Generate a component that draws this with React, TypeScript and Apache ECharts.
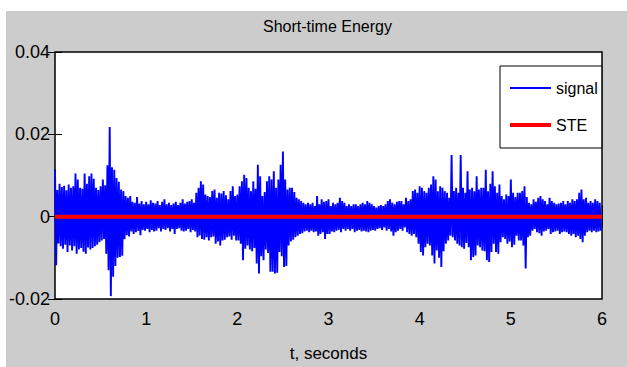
import React, { useEffect, useRef } from "react";
import * as echarts from "echarts";

// Signal envelope, per 0.025 s bin, in units of 0.001
const BIN_SECONDS = 0.025;
const UNIT = 0.001;

const signalUpper = [
  11.5, 6.5, 8.0, 7.2, 7.5, 6.4, 7.8, 7.0, 7.4, 10.5, 9.0, 7.0,
  6.8, 10.5, 8.0, 9.8, 10.5, 9.2, 7.0, 6.5, 7.4, 9.0, 7.6, 12.5,
  21.8, 12.0, 11.4, 9.4, 8.5, 6.6, 6.2, 5.0, 4.6, 5.0, 3.6, 3.4,
  4.8, 3.2, 3.8, 3.0, 3.6, 3.0, 4.0, 3.4, 3.2, 3.8, 2.8, 3.6,
  4.2, 3.0, 3.4, 2.8, 3.2, 3.6, 2.8, 3.4, 4.2, 3.2, 3.6, 3.8,
  4.2, 3.4, 5.8, 7.0, 8.6, 7.8, 5.4, 5.0, 4.8, 6.2, 6.6, 4.6,
  5.8, 5.6, 6.2, 5.2, 4.2, 6.2, 7.4, 5.0, 5.4, 7.4, 8.6, 10.2,
  9.4, 7.0, 6.2, 8.6, 6.8, 12.6, 9.8, 5.0, 6.0, 8.6, 9.8, 9.0,
  11.0, 7.0, 9.0, 12.6, 15.8, 9.0, 6.6, 7.0, 7.0, 6.0, 4.6, 4.2,
  3.8, 3.4, 3.0, 3.4, 3.0, 3.4, 2.6, 5.0, 3.0, 4.2, 3.6, 3.8,
  4.2, 2.6, 3.4, 3.0, 3.4, 4.6, 3.8, 3.4, 2.6, 3.0, 2.6, 3.0,
  3.0, 2.6, 3.0, 3.4, 3.0, 3.8, 3.4, 3.0, 2.6, 2.2, 2.6, 2.8,
  2.6, 3.0, 3.8, 4.2, 3.4, 3.0, 3.6, 3.8, 3.8, 3.0, 4.6, 3.8,
  4.2, 6.2, 6.6, 5.8, 7.4, 7.0, 6.2, 5.8, 7.0, 7.8, 9.8, 9.0,
  6.2, 7.4, 7.0, 6.2, 5.8, 4.6, 15.0, 6.2, 7.0, 5.8, 15.0, 7.0,
  5.8, 11.0, 6.6, 7.0, 6.2, 9.8, 6.6, 7.0, 7.0, 11.4, 6.2, 8.0,
  11.0, 7.4, 5.8, 7.8, 5.0, 4.2, 5.4, 5.0, 9.0, 5.8, 4.8, 5.8,
  5.8, 6.2, 7.4, 4.8, 3.4, 3.0, 4.2, 3.6, 4.6, 5.0, 4.2, 3.8,
  3.0, 4.6, 3.8, 3.4, 3.0, 3.2, 3.4, 3.8, 3.0, 3.8, 3.4, 4.2,
  3.8, 4.2, 5.8, 6.6, 4.2, 4.6, 3.4, 3.8, 3.4, 4.2, 3.8, 3.4,
];

const signalLower = [
  -11.8, -6.5, -7.2, -7.8, -6.8, -8.6, -7.0, -8.2, -7.2, -9.0, -8.0, -7.6,
  -8.5, -9.0, -7.5, -8.0, -7.6, -7.2, -6.8, -6.2, -5.8, -5.4, -9.0, -13.0,
  -19.3, -14.6, -12.0, -10.0, -9.8, -9.5, -5.5, -4.5, -4.8, -3.6, -4.2, -3.8,
  -3.5, -4.5, -3.2, -3.4, -3.0, -3.8, -3.2, -3.6, -3.4, -2.8, -3.6, -3.0,
  -3.2, -2.8, -3.6, -3.0, -4.2, -3.0, -2.8, -3.4, -3.6, -3.4, -3.0, -3.8,
  -3.2, -3.6, -5.0, -4.6, -5.4, -5.6, -5.0, -5.8, -5.0, -4.8, -6.6, -6.0,
  -7.0, -5.8, -5.6, -5.0, -4.8, -5.6, -4.6, -5.8, -5.8, -6.6, -10.6, -7.8,
  -7.0, -8.0, -8.4, -7.6, -11.4, -13.8, -9.6, -10.6, -8.0, -8.8, -13.4, -13.4,
  -13.8, -13.6, -8.6, -9.6, -12.2, -12.0, -7.0, -6.0, -5.6, -5.0, -4.6, -4.2,
  -4.0, -3.6, -3.4, -3.8, -3.4, -3.8, -3.6, -4.6, -4.2, -3.8, -5.4, -4.2,
  -4.2, -3.6, -3.8, -3.4, -3.2, -3.8, -3.0, -3.4, -3.0, -3.4, -3.0, -3.8,
  -3.4, -3.2, -3.6, -3.4, -3.6, -3.8, -3.4, -3.2, -3.4, -3.0, -2.8, -3.2,
  -2.6, -3.4, -3.0, -3.6, -4.6, -3.8, -3.4, -3.0, -3.4, -2.6, -3.8, -4.2,
  -4.6, -4.2, -5.0, -6.6, -8.6, -9.4, -7.4, -6.6, -7.0, -9.4, -11.4, -8.2,
  -10.0, -12.2, -8.4, -6.6, -5.8, -4.6, -5.0, -5.8, -6.6, -7.0, -7.4, -7.8,
  -6.4, -7.4, -10.6, -9.8, -9.4, -7.0, -7.4, -8.2, -8.4, -10.6, -11.0, -8.6,
  -6.6, -8.6, -9.0, -6.2, -5.0, -5.4, -6.6, -6.0, -7.4, -6.8, -4.6, -5.8,
  -5.8, -7.0, -12.6, -5.0, -4.6, -3.4, -3.0, -3.8, -4.0, -4.6, -3.6, -3.4,
  -3.0, -4.2, -3.8, -3.6, -3.4, -4.2, -3.8, -3.6, -3.8, -4.2, -4.6, -4.2,
  -5.0, -4.6, -5.4, -6.2, -4.6, -3.8, -3.4, -3.8, -3.4, -3.8, -3.6, -3.4,
];

// Short-time energy (flat at zero at this scale)
const steTimes = [0, 0.5, 1, 1.5, 2, 2.5, 3, 3.5, 4, 4.5, 5, 5.5, 6];
const steValues = [0, 0, 0, 0, 0, 0, 0, 0, 0, 0, 0, 0, 0];

const FONT = "'Liberation Sans', Arial, sans-serif";

export default function App() {
  const ref = useRef<HTMLDivElement>(null);

  useEffect(() => {
    if (!ref.current) return;
    const chart = echarts.init(ref.current, undefined, { renderer: "svg" });

    const signalData: [number, number][] = [];
    for (let i = 0; i < signalUpper.length; i++) {
      const t = i * BIN_SECONDS;
      signalData.push([t, signalUpper[i] * UNIT]);
      signalData.push([t + BIN_SECONDS / 2, signalLower[i] * UNIT]);
    }
    const steData = steTimes.map((t, i) => [t, steValues[i]]);

    const tickLine = { color: "#000", width: 1 };

    chart.setOption({
      animation: false,
      backgroundColor: "#ffffff",
      graphic: [
        {
          type: "rect",
          shape: { x: 6, y: 11, width: 621, height: 356 },
          style: { fill: "#cccccc" },
          z: -100,
          silent: true,
        },
      ],
      title: {
        text: "Short-time Energy",
        left: 263,
        top: 18,
        padding: 0,
        textStyle: { fontFamily: FONT, fontSize: 16, fontWeight: "normal", color: "#000" },
      },
      grid: {
        left: 55,
        right: 25,
        top: 52,
        bottom: 64,
        show: true,
        backgroundColor: "#ffffff",
        borderColor: "#000",
        borderWidth: 1.5,
      },
      legend: {
        orient: "vertical",
        left: 500,
        top: 66,
        padding: [14, 4, 15, 8],
        itemGap: 21,
        itemWidth: 41,
        itemHeight: 14,
        backgroundColor: "#ffffff",
        borderColor: "#000",
        borderWidth: 1,
        itemStyle: { opacity: 0 },
        textStyle: { fontFamily: FONT, fontSize: 16, color: "#000" },
        data: [
          { name: "signal", lineStyle: { width: 2 } },
          { name: "STE", lineStyle: { width: 4 } },
        ],
      },
      xAxis: [
        {
          type: "value",
          min: 0,
          max: 6,
          interval: 1,
          position: "bottom",
          axisLine: { show: false },
          axisTick: { inside: true, length: 11, lineStyle: tickLine },
          axisLabel: { color: "#000", fontFamily: FONT, fontSize: 18, margin: 11 },
          splitLine: { show: false },
          name: "t, seconds",
          nameLocation: "middle",
          nameGap: 46,
          nameTextStyle: { color: "#000", fontFamily: FONT, fontSize: 17 },
        },
        {
          type: "value",
          min: 0,
          max: 6,
          interval: 1,
          position: "top",
          axisLine: { show: false },
          axisTick: { inside: true, length: 11, lineStyle: tickLine },
          axisLabel: { show: false },
          splitLine: { show: false },
        },
      ],
      yAxis: [
        {
          type: "value",
          min: -0.02,
          max: 0.04,
          interval: 0.02,
          position: "left",
          axisLine: { show: false },
          axisTick: { inside: true, length: 7, lineStyle: tickLine },
          axisLabel: {
            color: "#000",
            fontFamily: FONT,
            fontSize: 18,
            margin: 5,
            formatter: (v: number) => (Math.abs(v) < 1e-9 ? "0" : v.toFixed(2)),
          },
          splitLine: { show: false },
        },
        {
          type: "value",
          min: -0.02,
          max: 0.04,
          interval: 0.02,
          position: "right",
          axisLine: { show: false },
          axisTick: { inside: true, length: 7, lineStyle: tickLine },
          axisLabel: { show: false },
          splitLine: { show: false },
        },
      ],
      series: [
        {
          name: "signal",
          type: "line",
          xAxisIndex: 0,
          yAxisIndex: 0,
          data: signalData,
          symbol: "none",
          showSymbol: false,
          sampling: undefined,
          lineStyle: { color: "#0000ff", width: 1.9 },
          itemStyle: { color: "#0000ff" },
          areaStyle: { color: "#0000ff", opacity: 1 },
          silent: true,
          z: 2,
        },
        {
          name: "STE",
          type: "line",
          xAxisIndex: 0,
          yAxisIndex: 0,
          data: steData,
          symbol: "none",
          showSymbol: false,
          lineStyle: { color: "#ff0000", width: 4 },
          itemStyle: { color: "#ff0000" },
          silent: true,
          z: 3,
        },
      ],
    });

    return () => chart.dispose();
  }, []);

  return (
    <div
      ref={ref}
      style={{ position: "fixed", left: 0, top: 0, width: 627, height: 367 }}
    />
  );
}
